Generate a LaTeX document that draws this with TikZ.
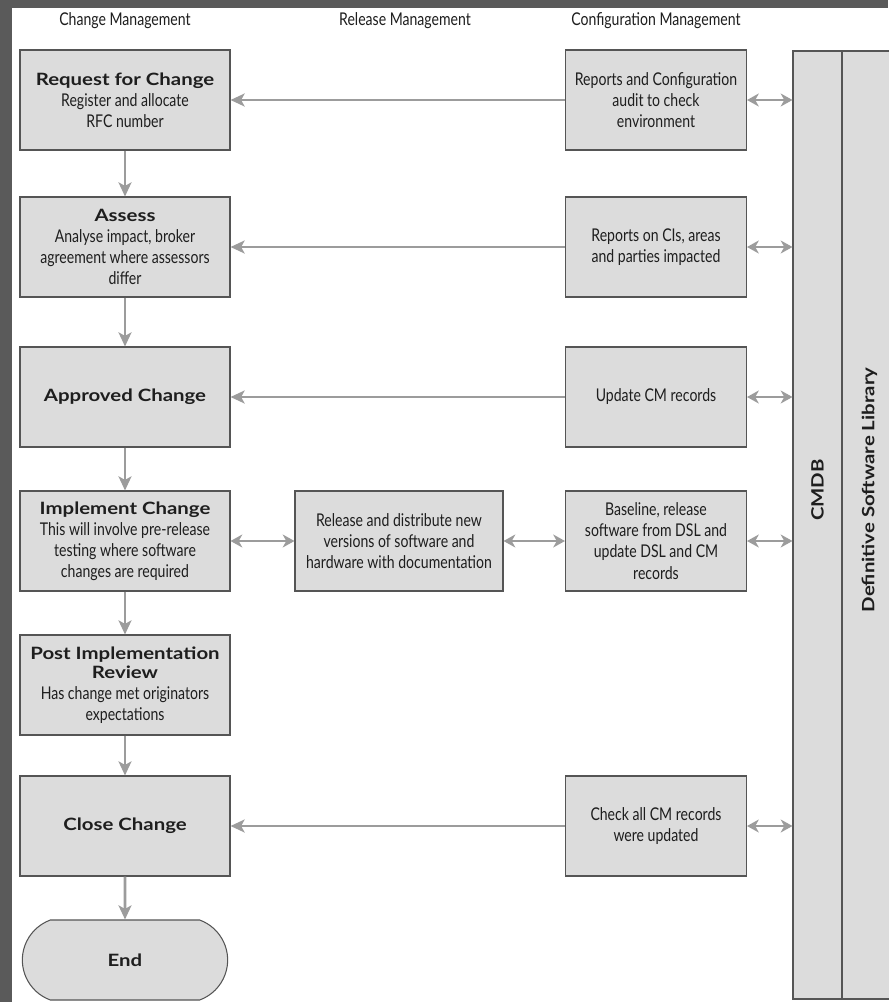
\documentclass[tikz,border=0pt]{standalone}
\usepackage{fontspec}
\setmainfont{Lato}
\newfontfamily\narrowfont[FakeStretch=0.8]{Lato}
\newfontfamily\widefont[FakeStretch=1.2]{Lato Bold}
\usetikzlibrary{arrows.meta,shapes.misc}
\definecolor{ink}{HTML}{1E1E1E}
\definecolor{frame}{HTML}{5A5A5A}
\definecolor{boxfill}{HTML}{DCDCDC}
\definecolor{edge}{HTML}{555555}
\definecolor{flow}{HTML}{9C9C9C}
\newcommand{\ttl}[1]{{\widefont\fontsize{14.5}{19}\selectfont #1}}

\begin{document}
\begin{tikzpicture}[x=0.03cm,y=-0.03cm,text=ink,
 font=\narrowfont\fontsize{15}{18}\selectfont,
 box/.style={draw=edge,fill=boxfill,line width=.9pt,align=center,inner sep=2pt},
 chg/.style={box,minimum width=210*0.03cm,minimum height=100*0.03cm},
 cfg/.style={box,minimum width=181*0.03cm,minimum height=100*0.03cm},
 lane/.style={font=\narrowfont\fontsize{15}{17}\selectfont},
 arrow/.style={-{Stealth[length=12pt,width=11pt,inset=3pt]},draw=flow,line width=2.2pt},
 both/.style={{Stealth[length=10pt,width=11pt,inset=3pt]}-{Stealth[length=10pt,width=11pt,inset=3pt]},draw=flow,line width=2.2pt}]
\path[use as bounding box] (0,0) rectangle (888,1002);
\fill[frame] (0,0) rectangle (888,1002);
\fill[white] (12,8) rectangle (888,1002);
\node[lane] at (125,21) {Change Management};
\node[lane] at (405,21) {Release Management};
\node[lane] at (656,21) {Configuration Management};
% change management column
\node[chg] (rfc) at (125,100) {\ttl{Request for Change}\\Register and allocate\\RFC number};
\node[chg] (assess) at (125,247) {\ttl{Assess}\\Analyse impact, broker\\agreement where assessors\\differ};
\node[chg] (approved) at (125,397) {\ttl{Approved Change}};
\node[chg] (implement) at (125,541) {\ttl{Implement Change}\\This will involve pre-release\\testing where software\\changes are required};
\node[chg] (pir) at (125,685) {\ttl{Post Implementation}\\[-2pt]\ttl{Review}\\Has change met originators\\expectations};
\node[chg] (close) at (125,826) {\ttl{Close Change}};
\node[box,rounded rectangle,rounded rectangle arc length=140,minimum width=210*0.03cm,minimum height=80*0.03cm] (end) at (125,960) {\ttl{End}};
% release and configuration
\node[box,minimum width=208*0.03cm,minimum height=100*0.03cm] (release) at (399,541) {Release and distribute new\\versions of software and\\hardware with documentation};
\node[cfg] (audit) at (656,100) {Reports and Configuration\\audit to check\\environment};
\node[cfg] (cis) at (656,247) {Reports on CIs, areas\\and parties impacted};
\node[cfg] (cmrec) at (656,397) {Update CM records};
\node[cfg] (baseline) at (656,541) {Baseline, release\\software from DSL and\\update DSL and CM\\records};
\node[cfg] (check) at (656,826) {Check all CM records\\were updated};
% CMDB and DSL
\node[box,minimum width=49*0.03cm,minimum height=948*0.03cm] (cmdb) at (817.5,525) {};
\node[box,minimum width=55*0.03cm,minimum height=948*0.03cm] (dsl) at (869.5,525) {};
\node[rotate=90] at (cmdb.center|-0,490) {\ttl{CMDB}};
\node[rotate=90] at (dsl.center|-0,490) {\ttl{Definitive Software Library}};
% arrows
\draw[arrow] (rfc)--(assess);
\draw[arrow] (assess)--(approved);
\draw[arrow] (approved)--(implement);
\draw[arrow] (implement)--(pir);
\draw[arrow] (pir)--(close);
\draw[arrow] (close)--(end);
\draw[arrow] (audit)--(rfc);
\draw[arrow] (cis)--(assess);
\draw[arrow] (cmrec)--(approved);
\draw[arrow] (check)--(close);
\draw[both] (implement)--(release);
\draw[both] (release)--(baseline);
\draw[both] (audit.east)--(cmdb.west|-audit.east);
\draw[both] (cis.east)--(cmdb.west|-cis.east);
\draw[both] (cmrec.east)--(cmdb.west|-cmrec.east);
\draw[both] (baseline.east)--(cmdb.west|-baseline.east);
\draw[both] (check.east)--(cmdb.west|-check.east);
\end{tikzpicture}
\end{document}
